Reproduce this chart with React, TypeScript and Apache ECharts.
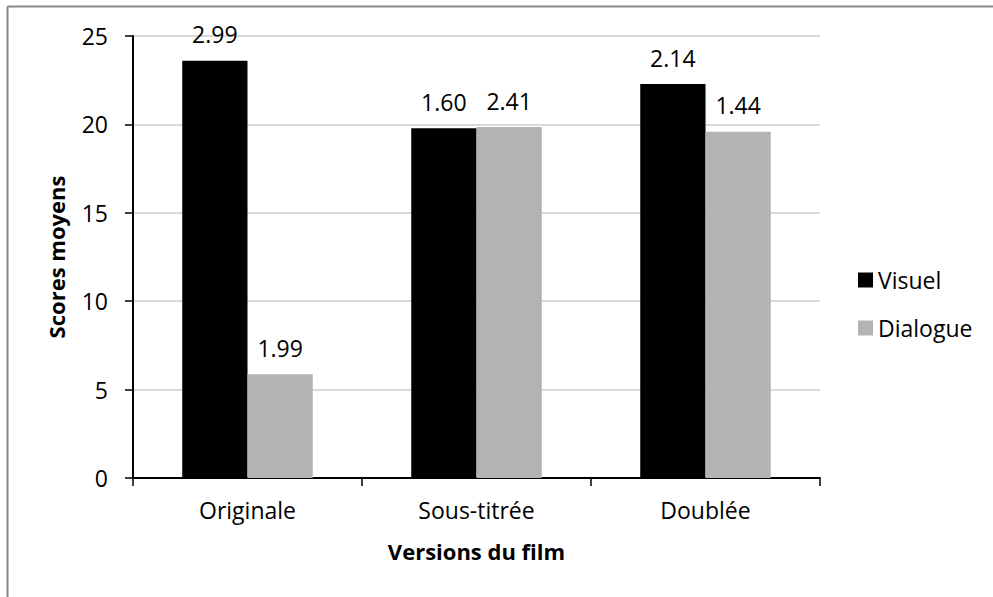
import React, { useEffect, useRef } from "react";
import * as echarts from "echarts";

// Film versions and mean scores per condition
const categories = ["Originale", "Sous-titrée", "Doublée"];
const visuelScores = [23.6, 19.78, 22.28];
const dialogueScores = [5.87, 19.85, 19.59];
// Standard deviations printed above each bar
const visuelSD = ["2.99", "1.60", "2.14"];
const dialogueSD = ["1.99", "2.41", "1.44"];
const yTicks = [0, 5, 10, 15, 20, 25];

const FONT = "'Open Sans', sans-serif";

export default function App() {
  const ref = useRef<HTMLDivElement>(null);

  useEffect(() => {
    document.body.style.margin = "0";
    if (!ref.current) return;
    const chart = echarts.init(ref.current, undefined, { renderer: "svg" });

    const labelStyle = (sd: string[]) => ({
      show: true,
      position: "top" as const,
      distance: 15,
      color: "#000",
      fontFamily: FONT,
      fontSize: 23,
      formatter: (p: any) => sd[p.dataIndex],
    });

    chart.setOption({
      animation: false,
      backgroundColor: "#fff",
      textStyle: { fontFamily: FONT },
      grid: { left: 133, right: 173, top: 36, bottom: 119, containLabel: false },
      legend: {
        orient: "vertical",
        left: 853,
        top: 263,
        itemWidth: 15,
        itemHeight: 15,
        itemGap: 24,
        icon: "rect",
        textStyle: { fontFamily: FONT, fontSize: 23, color: "#000", lineHeight: 24 },
        data: ["Visuel", "Dialogue"],
      },
      xAxis: {
        type: "category",
        data: categories,
        name: "Versions du film",
        nameLocation: "middle",
        nameGap: 62,
        nameTextStyle: { fontFamily: FONT, fontSize: 22, fontWeight: "bold", color: "#000" },
        axisLine: { lineStyle: { color: "#000", width: 2 } },
        axisTick: { show: true, length: 8, lineStyle: { color: "#000", width: 1.5 } },
        axisLabel: { color: "#000", fontFamily: FONT, fontSize: 23, margin: 20 },
        splitLine: { show: false },
      },
      yAxis: {
        type: "value",
        min: yTicks[0],
        max: yTicks[yTicks.length - 1],
        interval: 5,
        name: "Scores moyens",
        nameLocation: "middle",
        nameGap: 66,
        nameTextStyle: { fontFamily: FONT, fontSize: 22, fontWeight: "bold", color: "#000" },
        axisLine: { show: true, lineStyle: { color: "#000", width: 2 } },
        axisTick: { show: true, length: 8, lineStyle: { color: "#000", width: 1.5 } },
        axisLabel: { color: "#000", fontFamily: FONT, fontSize: 23, margin: 25 },
        splitLine: { show: true, lineStyle: { color: "#d9d9d9", width: 2 } },
      },
      series: [
        {
          name: "Visuel",
          type: "bar",
          data: visuelScores,
          barGap: "0%",
          barCategoryGap: "43%",
          itemStyle: { color: "#000" },
          label: labelStyle(visuelSD),
        },
        {
          name: "Dialogue",
          type: "bar",
          data: dialogueScores,
          barGap: "0%",
          barCategoryGap: "43%",
          itemStyle: { color: "#b3b3b3" },
          label: labelStyle(dialogueSD),
        },
      ],
      graphic: [
        {
          type: "line",
          shape: { x1: 7.5, y1: 6.5, x2: 993, y2: 6.5 },
          style: { stroke: "#888", lineWidth: 2 },
          silent: true,
        },
        {
          type: "line",
          shape: { x1: 7.5, y1: 6.5, x2: 7.5, y2: 597 },
          style: { stroke: "#888", lineWidth: 2 },
          silent: true,
        },
      ],
    });

    return () => chart.dispose();
  }, []);

  return <div ref={ref} style={{ width: 993, height: 597 }} />;
}
